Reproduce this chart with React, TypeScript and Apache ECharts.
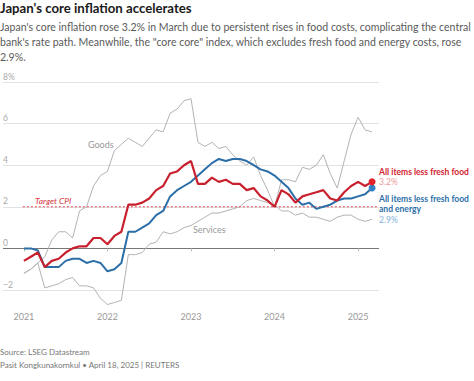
import React, { useEffect, useRef } from "react";
import * as echarts from "echarts";

// Months from Jan 2021 (index 0) to Mar 2025 (index 50)
const startYear = 2021;
const yearTicks = [0, 12, 24, 36, 48];

const lessFreshFood = [
  -0.6, -0.4, -0.2, -0.9, -0.6, -0.5, -0.2, 0.0, 0.1, 0.1, 0.5, 0.5,
  0.2, 0.6, 0.8, 2.1, 2.1, 2.2, 2.4, 2.8, 3.0, 3.6, 3.7, 4.0,
  4.2, 3.1, 3.1, 3.4, 3.2, 3.3, 3.1, 3.1, 2.8, 2.9, 2.5, 2.3,
  2.0, 2.8, 2.6, 2.2, 2.5, 2.6, 2.7, 2.8, 2.4, 2.3, 2.7, 3.0,
  3.2, 3.0, 3.2,
];
const lessFreshFoodEnergy = [
  0.0, 0.0, -0.1, -0.9, -0.9, -0.9, -0.6, -0.5, -0.5, -0.7, -0.6, -0.7,
  -1.1, -1.0, -0.7, 0.8, 0.8, 1.0, 1.2, 1.6, 1.8, 2.5, 2.8, 3.0,
  3.2, 3.5, 3.8, 4.1, 4.3, 4.2, 4.3, 4.3, 4.2, 4.0, 3.8, 3.7,
  3.5, 3.2, 2.9, 2.4, 2.1, 2.2, 1.9, 2.0, 2.1, 2.3, 2.4, 2.4,
  2.5, 2.6, 2.9,
];
const goods = [
  -1.2, -1.0, -0.7, -0.4, 0.4, 0.8, 0.8, 0.5, 1.8, 2.0, 3.0, 3.5,
  3.7, 4.7, 5.0, 5.3, 5.1, 4.9, 5.3, 5.7, 5.6, 6.5, 6.7, 7.1,
  7.2, 5.1, 4.9, 5.1, 4.8, 4.9, 4.5, 4.2, 4.0, 4.4, 3.5, 2.8,
  2.0, 3.3, 3.3, 3.2, 3.9, 3.8, 4.0, 4.5, 3.6, 2.9, 4.2, 5.5,
  6.3, 5.7, 5.6,
];
const services = [
  -1.2, -1.0, -0.7, -1.9, -1.8, -1.7, -1.5, -1.4, -1.8, -1.8, -1.9, -2.4,
  -2.7, -2.6, -2.5, -0.3, -0.3, -0.2, 0.2, 0.3, 0.8, 0.7, 0.8, 1.0,
  1.1, 1.3, 1.5, 1.7, 1.7, 1.8, 1.9, 2.0, 2.3, 2.4, 2.3, 2.2,
  2.1, 1.8, 1.8, 1.6, 1.7, 1.5, 1.5, 1.4, 1.3, 1.5, 1.6, 1.6,
  1.4, 1.3, 1.4,
];
const targetCPI = 2;
const targetSpan = [-0.15, 50.9];
const yTicks = [-2, 0, 2, 4, 6, 8];

const titleText = "Japan's core inflation accelerates";
const subtitleText =
  "Japan's core inflation rose 3.2% in March due to persistent rises in food costs, complicating the central\n" +
  "bank's rate path. Meanwhile, the \"core core\" index, which excludes fresh food and energy costs, rose\n" +
  "2.9%.";
const footerText = "Source: LSEG Datastream\nPasit Kongkunakornkul \u2022 April 18, 2025 | REUTERS";

const RED = "#c8202d";
const BLUE = "#2b6ea8";
const GRAY = "#b3b3b3";
const FONT = "Lato, 'Open Sans', sans-serif";

const toPairs = (arr: number[]) => arr.map((v, i) => [i, v]);

export default function App() {
  const ref = useRef<HTMLDivElement>(null);
  useEffect(() => {
    document.body.style.margin = "0";
    if (!ref.current) return;
    const chart = echarts.init(ref.current, undefined, { renderer: "svg" });
    const lastIdx = lessFreshFood.length - 1;
    const endSize = (_v: any, p: any) => (p.dataIndex === lastIdx ? 7 : 0);
    const option: any = {
      animation: false,
      textStyle: { fontFamily: FONT },
      title: [
        {
          text: titleText,
          left: 0,
          top: 1,
          padding: 0,
          textStyle: { fontFamily: FONT, fontWeight: "bold", fontSize: 13.2, color: "#1a1a1a" },
        },
        {
          text: subtitleText,
          left: 0,
          top: 19,
          padding: 0,
          textStyle: { fontFamily: FONT, fontWeight: "normal", fontSize: 10.55, lineHeight: 15, color: "#5a5a5a" },
        },
        {
          text: footerText,
          left: 0,
          top: 345,
          padding: 0,
          textStyle: { fontFamily: FONT, fontWeight: "normal", fontSize: 8, lineHeight: 13, color: "#777" },
        },
      ],
      grid: { left: 0, right: 95, top: 82, bottom: 91, containLabel: false },
      xAxis: {
        type: "value",
        min: -3,
        max: 51,
        offset: 14,
        splitLine: { show: false },
        axisLine: { show: false },
        axisTick: { show: true, customValues: yearTicks, length: 3, lineStyle: { color: "#bbb" } },
        axisLabel: {
          customValues: yearTicks,
          formatter: (v: number) => String(startYear + v / 12),
          color: "#999",
          fontSize: 9,
          margin: 8,
          fontFamily: FONT,
        },
      },
      yAxis: {
        type: "value",
        min: yTicks[0],
        max: yTicks[yTicks.length - 1],
        interval: 2,
        axisLine: { show: false },
        axisTick: { show: false },
        axisLabel: {
          inside: true,
          margin: 0,
          verticalAlign: "bottom",
          lineHeight: 11,
          color: "#aaa",
          fontSize: 8.5,
          fontFamily: FONT,
          formatter: (v: number) => (v === 8 ? "8%" : v < 0 ? "\u2212" + Math.abs(v) : String(v)),
        },
        splitLine: {
          lineStyle: { color: ["#e2e2e2", "#777", "#e2e2e2", "#e2e2e2", "#e2e2e2", "#e2e2e2"], width: 1 },
        },
      },
      graphic: [
        { type: "text", left: 88, top: 140, style: { text: "Goods", fill: "#999", fontSize: 9, fontFamily: FONT } },
        { type: "text", left: 193, top: 225, style: { text: "Services", fill: "#999", fontSize: 9, fontFamily: FONT } },
        {
          type: "text",
          left: 35,
          top: 196,
          style: { text: "Target CPI", fill: "#d8363d", fontSize: 8.5, fontStyle: "italic", fontFamily: FONT },
        },
      ],
      series: [
        {
          name: "Target CPI",
          type: "line",
          data: targetSpan.map((x) => [x, targetCPI]),
          symbol: "none",
          clip: false,
          silent: true,
          lineStyle: { color: "#e0454b", type: [2, 2], width: 1 },
          z: 2,
        },
        {
          name: "Goods",
          type: "line",
          data: toPairs(goods),
          symbol: "none",
          clip: false,
          lineStyle: { color: GRAY, width: 1 },
          z: 1,
        },
        {
          name: "Services",
          type: "line",
          data: toPairs(services),
          symbol: "none",
          clip: false,
          lineStyle: { color: GRAY, width: 1 },
          z: 1,
        },
        {
          name: "All items less fresh food and energy",
          type: "line",
          data: toPairs(lessFreshFoodEnergy),
          symbol: "circle",
          symbolSize: endSize,
          showSymbol: true,
          showAllSymbol: true,
          clip: false,
          itemStyle: { color: "#3481c4" },
          lineStyle: { color: BLUE, width: 2 },
          z: 3,
          endLabel: {
            show: true,
            align: "left",
            verticalAlign: "middle",
            distance: 7,
            offset: [0, 21],
            formatter: () =>
              `{a|All items less fresh food}\n{a|and energy}\n{b|${lessFreshFoodEnergy[lastIdx].toFixed(1)}%}`,
            rich: {
              a: { color: BLUE, fontWeight: "bold", fontSize: 8.5, lineHeight: 10.5, fontFamily: FONT },
              b: { color: "#7fb2dc", fontSize: 8.5, lineHeight: 10.5, fontFamily: FONT },
            },
          },
        },
        {
          name: "All items less fresh food",
          type: "line",
          data: toPairs(lessFreshFood),
          symbol: "circle",
          symbolSize: endSize,
          showSymbol: true,
          showAllSymbol: true,
          clip: false,
          itemStyle: { color: "#e3222b" },
          lineStyle: { color: RED, width: 2.2 },
          z: 4,
          endLabel: {
            show: true,
            align: "left",
            verticalAlign: "middle",
            distance: 7,
            offset: [0, -5],
            formatter: () => `{a|All items less fresh food}\n{b|${lessFreshFood[lastIdx].toFixed(1)}%}`,
            rich: {
              a: { color: "#d2232f", fontWeight: "bold", fontSize: 8.5, lineHeight: 10.5, fontFamily: FONT },
              b: { color: "#ef9a9a", fontSize: 8.5, lineHeight: 10.5, fontFamily: FONT },
            },
          },
        },
      ],
    };
    chart.setOption(option);
    return () => chart.dispose();
  }, []);
  return (
    <div
      ref={ref}
      style={{ position: "absolute", left: 0, top: 0, width: 474, height: 381, background: "#fff" }}
    />
  );
}
